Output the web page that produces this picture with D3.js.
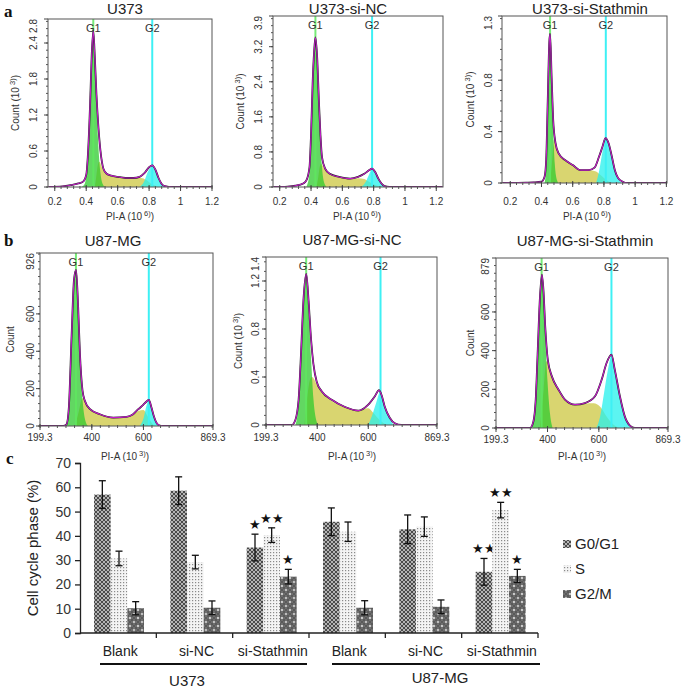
<!DOCTYPE html>
<html>
<head>
<meta charset="utf-8">
<script src="https://cdn.jsdelivr.net/npm/d3@7"></script>
<style>
body { margin: 0; background: #fff; }
svg { display: block; }
text { font-family: "Liberation Sans", Arial, sans-serif; }
</style>
</head>
<body>
<script>
// ---- histogram data ----
// a-row: x in 10^6, count in 10^3 ; b-row: x in 10^3
var histTitles = ["U373", "U373-si-NC", "U373-si-Stathmin", "U87-MG", "U87-MG-si-NC", "U87-MG-si-Stathmin"];
var histYMax = [2.8, 3.9, 1.3, 926, 1.4, 879];
var histYTicks = [[0, 0.6, 1.2, 1.8, 2.4, 2.8], [0, 0.8, 1.6, 2.4, 3.2, 3.9], [0, 0.4, 0.8, 1.3],
                  [0, 200, 400, 600, 926], [0, 0.4, 0.8, 1.2, 1.4], [0, 200, 400, 600, 879]];
var histYLabel = ["Count (10|3)", "Count (10|3)", "Count (10|3)", "Count", "Count (10|3)", "Count"];
var xTicksA = [0.2, 0.4, 0.6, 0.8, 1, 1.2];
var xTicksB = [199.3, 400, 600, 869.3];
var g1Pos = [0.445, 0.428, 0.455, 338.5, 356.7, 377];
var g2Pos = [0.82, 0.79, 0.812, 620.7, 648, 649];

var a1Total = [[0.16,0],[0.25,0.01],[0.3,0.03],[0.35,0.06],[0.38,0.09],[0.4,0.2],[0.41,0.5],[0.425,1.4],[0.435,2.2],[0.445,2.6],[0.455,2.15],[0.465,1.55],[0.475,1.1],[0.49,0.62],[0.51,0.3],[0.53,0.22],[0.56,0.19],[0.6,0.17],[0.65,0.15],[0.7,0.15],[0.74,0.17],[0.77,0.23],[0.8,0.33],[0.82,0.36],[0.84,0.29],[0.86,0.15],[0.88,0.05],[0.9,0.015],[0.95,0],[1.2,0]];
var a1G1 = [[0.37,0],[0.39,0.05],[0.41,0.45],[0.425,1.35],[0.435,2.15],[0.445,2.55],[0.455,2.1],[0.465,1.4],[0.475,0.8],[0.49,0.25],[0.505,0.05],[0.52,0]];
var a1S = [[0.455,0],[0.465,0.2],[0.475,0.38],[0.485,0.42],[0.495,0.36],[0.51,0.27],[0.54,0.2],[0.6,0.17],[0.65,0.15],[0.7,0.15],[0.75,0.15],[0.78,0.12],[0.81,0.06],[0.84,0.02],[0.86,0]];
var a1G2 = [[0.74,0],[0.77,0.1],[0.79,0.24],[0.81,0.33],[0.82,0.35],[0.84,0.28],[0.86,0.14],[0.88,0.04],[0.9,0]];

var a2Total = [[0.16,0],[0.25,0.01],[0.3,0.03],[0.35,0.08],[0.37,0.15],[0.39,0.45],[0.4,1.2],[0.41,2.35],[0.42,3.1],[0.428,3.41],[0.44,2.9],[0.45,1.97],[0.46,1.2],[0.47,0.68],[0.49,0.42],[0.52,0.3],[0.58,0.23],[0.65,0.19],[0.7,0.23],[0.74,0.3],[0.77,0.38],[0.79,0.42],[0.81,0.34],[0.83,0.19],[0.85,0.08],[0.87,0.02],[0.9,0],[1.24,0]];
var a2G1 = [[0.37,0],[0.39,0.3],[0.4,1.0],[0.41,2.1],[0.42,3.0],[0.428,3.3],[0.44,2.7],[0.45,1.8],[0.46,1.0],[0.47,0.45],[0.48,0.15],[0.5,0]];
var a2S = [[0.435,0],[0.445,0.2],[0.455,0.45],[0.465,0.53],[0.48,0.45],[0.5,0.35],[0.52,0.3],[0.58,0.23],[0.65,0.19],[0.7,0.2],[0.74,0.18],[0.77,0.12],[0.8,0.06],[0.83,0.02],[0.85,0]];
var a2G2 = [[0.72,0],[0.75,0.12],[0.77,0.28],[0.79,0.4],[0.81,0.33],[0.83,0.18],[0.85,0.07],[0.87,0]];

var a3Total = [[0.15,0],[0.3,0.003],[0.35,0.005],[0.4,0.01],[0.42,0.05],[0.43,0.18],[0.44,0.64],[0.45,1.1],[0.455,1.16],[0.465,0.82],[0.475,0.49],[0.49,0.31],[0.51,0.23],[0.55,0.18],[0.6,0.14],[0.65,0.1],[0.7,0.1],[0.74,0.12],[0.77,0.21],[0.79,0.28],[0.81,0.35],[0.83,0.31],[0.85,0.21],[0.87,0.1],[0.89,0.04],[0.92,0.01],[0.95,0],[1.2,0]];
var a3G1 = [[0.42,0],[0.43,0.12],[0.44,0.55],[0.45,1.02],[0.455,1.1],[0.465,0.78],[0.475,0.4],[0.485,0.15],[0.5,0.02],[0.51,0]];
var a3S = [[0.455,0],[0.47,0.2],[0.48,0.34],[0.49,0.3],[0.51,0.23],[0.55,0.18],[0.6,0.14],[0.65,0.1],[0.7,0.1],[0.75,0.09],[0.78,0.06],[0.82,0.02],[0.85,0]];
var a3G2 = [[0.75,0],[0.77,0.1],[0.79,0.24],[0.81,0.33],[0.82,0.34],[0.84,0.27],[0.86,0.16],[0.88,0.07],[0.9,0.02],[0.92,0]];

var b1Total = [[199.3,0],[289,0],[302,9],[311,99],[322,495],[331,783],[339,836],[347,639],[354,387],[364,189],[373,135],[393,90],[431,63],[483,45],[534,49],[560,63],[580,90],[599,113],[612,131],[621,140],[631,99],[640,54],[650,18],[663,2],[676,0],[869.3,0]];
var b1G1 = [[300,0],[311,90],[322,470],[331,760],[339,820],[347,620],[354,360],[364,140],[373,40],[385,0]];
var b1S = [[335,0],[350,80],[360,140],[367,150],[380,110],[400,80],[431,63],[483,45],[534,48],[560,60],[580,80],[600,85],[615,55],[630,20],[645,0]];
var b1G2 = [[585,0],[600,40],[612,110],[621,135],[631,95],[640,50],[650,15],[662,0]];

var b2Total = [[199.3,0],[300,0],[314,0.04],[327,0.21],[337,0.62],[346,1.04],[357,1.26],[366,1.04],[376,0.71],[385,0.51],[398,0.36],[418,0.28],[457,0.21],[509,0.15],[561,0.12],[600,0.17],[626,0.24],[642,0.29],[652,0.25],[665,0.15],[684,0.06],[704,0.014],[730,0],[869.3,0]];
var b2G1 = [[315,0],[327,0.18],[337,0.58],[346,1.0],[355,1.2],[366,0.95],[376,0.55],[385,0.22],[395,0.05],[405,0]];
var b2S = [[350,0],[362,0.25],[372,0.38],[380,0.4],[398,0.34],[418,0.27],[457,0.2],[509,0.15],[561,0.12],[600,0.14],[620,0.1],[645,0.04],[670,0]];
var b2G2 = [[600,0],[615,0.08],[630,0.18],[648,0.28],[660,0.2],[672,0.12],[685,0.05],[700,0]];

var b3Total = [[199.3,0],[332,0],[345,34],[354,147],[362,405],[370,664],[378,793],[384,716],[391,526],[401,353],[417,267],[443,198],[468,147],[507,121],[546,129],[585,164],[611,250],[630,336],[649,379],[662,302],[682,164],[701,60],[721,12],[740,0],[869.3,0]];
var b3G1 = [[340,0],[350,100],[360,380],[370,640],[377,780],[384,690],[391,480],[400,240],[410,70],[420,0]];
var b3S = [[370,0],[385,200],[395,345],[405,330],[417,265],[443,198],[468,147],[507,121],[546,126],[580,128],[605,110],[630,60],[655,20],[680,0]];
var b3G2 = [[590,0],[605,60],[620,180],[635,300],[649,370],[662,300],[682,160],[701,58],[715,15],[725,0]];

var histData = [
  {total: a1Total, g1: a1G1, s: a1S, g2: a1G2},
  {total: a2Total, g1: a2G1, s: a2S, g2: a2G2},
  {total: a3Total, g1: a3G1, s: a3S, g2: a3G2},
  {total: b1Total, g1: b1G1, s: b1S, g2: b1G2},
  {total: b2Total, g1: b2G1, s: b2S, g2: b2G2},
  {total: b3Total, g1: b3G1, s: b3S, g2: b3G2}
];

// ---- bar chart data ----
var groups = ["Blank", "si-NC", "si-Stathmin", "Blank", "si-NC", "si-Stathmin"];
var cellLines = ["U373", "U87-MG"];
var phases = ["G0/G1", "S", "G2/M"];
var g0g1 = [57, 58.6, 35.2, 45.8, 42.7, 25.2];
var g0g1Err = [5.7, 5.7, 5.5, 5.7, 5.9, 5.5];
var sPhase = [30.7, 29.2, 40.3, 41.7, 43.8, 50.6];
var sErr = [3, 2.8, 3, 4, 4, 3.2];
var g2m = [10.2, 10.4, 23.2, 10.4, 10.8, 23.5];
var g2mErr = [2.7, 2.8, 3, 2.9, 2.8, 2.7];
var sig = [["", "", ""], ["", "", ""], ["\u2605", "\u2605\u2605", "\u2605"],
           ["", "", ""], ["", "", ""], ["\u2605\u2605", "\u2605\u2605", "\u2605"]];

// ---- layout (pixels) ----
var layout = [
  {left: 48, right: 212, top: 19, bottom: 187, xDom: [0.157, 1.2], tx: 125, ty: 14, ylx: 33, ycx: 15, xlx: 130, xly: 220, tly: 205},
  {left: 273, right: 443, top: 16, bottom: 187, xDom: [0.157, 1.243], tx: 348, ty: 14, ylx: 258, ycx: 240, xlx: 357, xly: 220, tly: 205},
  {left: 502, right: 667, top: 16, bottom: 183, xDom: [0.147, 1.204], tx: 590, ty: 14, ylx: 488, ycx: 470, xlx: 587, xly: 220, tly: 205},
  {left: 40, right: 213, top: 253, bottom: 426, xDom: [199.3, 869.3], tx: 113, ty: 246, ylx: 30, ycx: 10, xlx: 125, xly: 460, tly: 441},
  {left: 266, right: 437, top: 257, bottom: 425, xDom: [199.3, 869.3], tx: 352, ty: 245, ylx: 255, ycx: 238, xlx: 352, xly: 460, tly: 441},
  {left: 496, right: 668, top: 258, bottom: 428, xDom: [199.3, 869.3], tx: 585, ty: 246, ylx: 485, ycx: 470, xlx: 582, xly: 460, tly: 443}
];

var svg = d3.select("body").append("svg").attr("width", 685).attr("height", 688);
var defs = svg.append("defs");

// panel letters
[["a", 4, 17], ["b", 4, 246], ["c", 6, 464]].forEach(function (p) {
  svg.append("text").attr("x", p[1]).attr("y", p[2]).text(p[0])
    .style("font-family", "'Liberation Serif', 'Times New Roman', serif")
    .attr("font-weight", "bold").attr("font-size", 17).attr("fill", "#111");
});

function supLabel(sel, str) {
  var parts = str.split("|");
  sel.append("tspan").text(parts[0]);
  if (parts.length > 1) {
    sel.append("tspan").attr("baseline-shift", "super").attr("font-size", "75%").text(" " + parts[1]);
    sel.append("tspan").text(")");
  }
}

function drawHist(i) {
  var L = layout[i], d = histData[i];
  var g = svg.append("g");
  var x = d3.scaleLinear().domain(L.xDom).range([L.left, L.right]);
  var y = d3.scaleLinear().domain([0, histYMax[i]]).range([L.bottom, L.top]);

  defs.append("clipPath").attr("id", "clip" + i).append("rect")
    .attr("x", L.left).attr("y", L.top).attr("width", L.right - L.left).attr("height", L.bottom - L.top);
  var c = g.append("g").attr("clip-path", "url(#clip" + i + ")");

  var area = d3.area().x(function (p) { return x(p[0]); }).y0(y(0))
    .y1(function (p) { return y(p[1]); }).curve(d3.curveMonotoneX);
  var line = d3.line().x(function (p) { return x(p[0]); })
    .y(function (p) { return y(p[1]); }).curve(d3.curveMonotoneX);

  c.append("path").attr("d", area(d.s)).attr("fill", "#cfcb4c").attr("fill-opacity", 0.8);
  c.append("path").attr("d", area(d.g1)).attr("fill", "#2ec92e").attr("fill-opacity", 0.75);
  c.append("path").attr("d", area(d.g2)).attr("fill", "#25f0ec").attr("fill-opacity", 0.75);

  c.append("line").attr("x1", x(g1Pos[i])).attr("x2", x(g1Pos[i])).attr("y1", L.top).attr("y2", L.bottom)
    .attr("stroke", "#5fe85f").attr("stroke-width", 2).attr("stroke-opacity", 0.85);
  c.append("line").attr("x1", x(g2Pos[i])).attr("x2", x(g2Pos[i])).attr("y1", L.top).attr("y2", L.bottom)
    .attr("stroke", "#3ef0f4").attr("stroke-width", 2);

  c.append("path").attr("d", line(d.total)).attr("fill", "none").attr("stroke", "#222").attr("stroke-width", 1.8);
  c.append("path").attr("d", line(d.total)).attr("fill", "none").attr("stroke", "#c21ec8").attr("stroke-width", 1.1);

  g.append("text").attr("x", x(g1Pos[i])).attr("y", L.top + 13).attr("text-anchor", "middle")
    .attr("font-size", 11).attr("fill", "#333").text("G1");
  g.append("text").attr("x", x(g2Pos[i])).attr("y", L.top + 13).attr("text-anchor", "middle")
    .attr("font-size", 11).attr("fill", "#333").text("G2");

  g.append("rect").attr("x", L.left).attr("y", L.top).attr("width", L.right - L.left)
    .attr("height", L.bottom - L.top).attr("fill", "none").attr("stroke", "#555").attr("stroke-width", 1);

  // y ticks
  var yt = histYTicks[i];
  var ystep = yt[1] / 5;
  d3.range(0, histYMax[i], ystep).forEach(function (v) {
    g.append("line").attr("x1", L.left - 2).attr("x2", L.left).attr("y1", y(v)).attr("y2", y(v)).attr("stroke", "#555");
  });
  yt.forEach(function (v) {
    g.append("line").attr("x1", L.left - 4).attr("x2", L.left).attr("y1", y(v)).attr("y2", y(v)).attr("stroke", "#444");
    g.append("text").attr("transform", "translate(" + L.ylx + "," + y(v) + ") rotate(-90)")
      .attr("text-anchor", v === histYMax[i] ? "end" : "middle").attr("dy", "0.35em")
      .attr("font-size", 10).attr("fill", "#333").text(v);
  });
  var yl = g.append("text").attr("transform", "translate(" + L.ycx + "," + ((L.top + L.bottom) / 2) + ") rotate(-90)")
    .attr("text-anchor", "middle").attr("dy", "0.35em").attr("font-size", 10).attr("fill", "#333");
  supLabel(yl, histYLabel[i]);

  // x ticks
  var isA = i < 3;
  var xt = isA ? xTicksA : xTicksB;
  var minor = isA ? d3.range(0.2, 1.21, 0.04) : d3.range(200, 869, 33.3);
  minor.forEach(function (v) {
    if (v < L.xDom[0] || v > L.xDom[1]) return;
    g.append("line").attr("x1", x(v)).attr("x2", x(v)).attr("y1", L.bottom - 1).attr("y2", L.bottom + 2).attr("stroke", "#555");
  });
  xt.forEach(function (v) {
    g.append("line").attr("x1", x(v)).attr("x2", x(v)).attr("y1", L.bottom - 2).attr("y2", L.bottom + 4).attr("stroke", "#444");
    g.append("text").attr("x", x(v)).attr("y", L.tly).attr("text-anchor", "middle")
      .attr("font-size", 10).attr("fill", "#333").text(v);
  });
  var xl = g.append("text").attr("x", L.xlx).attr("y", L.xly).attr("text-anchor", "middle")
    .attr("font-size", 10).attr("fill", "#333");
  supLabel(xl, isA ? "PI-A (10|6)" : "PI-A (10|3)");

  g.append("text").attr("x", L.tx).attr("y", L.ty).attr("text-anchor", "middle")
    .attr("font-size", 15).attr("fill", "#222").text(histTitles[i]);
}

for (var k = 0; k < 6; k++) drawHist(k);

// ---- bar chart patterns ----
var p1 = defs.append("pattern").attr("id", "patG1").attr("patternUnits", "userSpaceOnUse").attr("width", 4).attr("height", 4);
p1.append("rect").attr("width", 4).attr("height", 4).attr("fill", "#b4b4b4");
p1.append("path").attr("d", "M0,0L4,4M4,0L0,4").attr("stroke", "#4a4a4a").attr("stroke-width", 1);
var p2 = defs.append("pattern").attr("id", "patS").attr("patternUnits", "userSpaceOnUse").attr("width", 3).attr("height", 3);
p2.append("rect").attr("width", 3).attr("height", 3).attr("fill", "#f4f4f4");
p2.append("rect").attr("width", 1.2).attr("height", 1.2).attr("fill", "#8a8a8a");
var p3 = defs.append("pattern").attr("id", "patG2").attr("patternUnits", "userSpaceOnUse").attr("width", 8).attr("height", 8);
p3.append("rect").attr("width", 8).attr("height", 8).attr("fill", "#6e6e6e");
p3.append("path").attr("d", "M0,0L8,8M8,0L0,8M4,0L8,4M0,4L4,8M4,0L0,4M8,4L4,8").attr("stroke", "#555").attr("stroke-width", 0.8);
p3.append("circle").attr("cx", 2).attr("cy", 2).attr("r", 0.9).attr("fill", "#fff");
p3.append("circle").attr("cx", 6).attr("cy", 6).attr("r", 0.9).attr("fill", "#eee");
var patIds = ["url(#patG1)", "url(#patS)", "url(#patG2)"];

// ---- bar chart ----
var bx = d3.scaleBand().domain(d3.range(groups.length)).range([80, 538]);
var bx1 = d3.scaleBand().domain(phases).range([14, 64]);
var by = d3.scaleLinear().domain([0, 70]).range([633, 463]);
var vals = [g0g1, sPhase, g2m];
var errs = [g0g1Err, sErr, g2mErr];

var bar = svg.append("g");
groups.forEach(function (name, gi) {
  phases.forEach(function (ph, pi) {
    var v = vals[pi][gi], e = errs[pi][gi];
    var x0 = bx(gi) + bx1(ph), w = bx1.bandwidth();
    bar.append("rect").attr("x", x0).attr("y", by(v)).attr("width", w).attr("height", by(0) - by(v))
      .attr("fill", patIds[pi]);
    var cx = x0 + w / 2;
    bar.append("line").attr("x1", cx).attr("x2", cx).attr("y1", by(v - e)).attr("y2", by(v + e))
      .attr("stroke", "#111").attr("stroke-width", 1.3);
    [v - e, v + e].forEach(function (t) {
      bar.append("line").attr("x1", cx - 3.5).attr("x2", cx + 3.5).attr("y1", by(t)).attr("y2", by(t))
        .attr("stroke", "#111").attr("stroke-width", 1.3);
    });
    if (sig[gi][pi]) {
      bar.append("text").attr("x", cx).attr("y", by(v + e) - 5).attr("text-anchor", "middle")
        .attr("font-size", 13).attr("fill", "#111").text(sig[gi][pi]);
    }
  });
  bar.append("text").attr("x", bx(gi) + bx.bandwidth() / 2 + 2).attr("y", 656).attr("text-anchor", "middle")
    .attr("font-size", 14).attr("fill", "#222").text(name);
});

var yAxis = svg.append("g").attr("transform", "translate(80,0)")
  .call(d3.axisLeft(by).tickValues(d3.range(0, 71, 10)).tickSize(5).tickPadding(4));
yAxis.select(".domain").attr("stroke", "#222").attr("stroke-width", 1.3);
yAxis.selectAll(".tick line").attr("stroke", "#222").attr("stroke-width", 1.3);
yAxis.selectAll(".tick text").attr("font-size", 14).attr("fill", "#333")
  .style("font-family", "'Liberation Sans', Arial, sans-serif");

svg.append("line").attr("x1", 80).attr("x2", 538).attr("y1", 633).attr("y2", 633)
  .attr("stroke", "#222").attr("stroke-width", 1.3);
d3.range(1, groups.length + 1).forEach(function (gi) {
  var xx = gi < groups.length ? bx(gi) : bx(gi - 1) + bx.bandwidth();
  svg.append("line").attr("x1", xx).attr("x2", xx).attr("y1", 633).attr("y2", 638)
    .attr("stroke", "#222").attr("stroke-width", 1.3);
});

svg.append("text").attr("transform", "translate(33,548) rotate(-90)").attr("text-anchor", "middle")
  .attr("dy", "0.35em").attr("font-size", 15).attr("fill", "#222").text("Cell cycle phase (%)");

// cell line brackets
var lineSpans = [[100, 307, 187, 686], [332, 540, 440, 683]];
cellLines.forEach(function (nm, ci) {
  var s = lineSpans[ci];
  svg.append("line").attr("x1", s[0]).attr("x2", s[1]).attr("y1", 664).attr("y2", 664)
    .attr("stroke", "#111").attr("stroke-width", 2);
  svg.append("text").attr("x", s[2]).attr("y", s[3]).attr("text-anchor", "middle")
    .attr("font-size", 15).attr("fill", "#222").text(nm);
});

// legend
phases.forEach(function (ph, pi) {
  var ly = 544 + pi * 25;
  svg.append("rect").attr("x", 563).attr("y", ly - 4).attr("width", 8).attr("height", 8).attr("fill", patIds[pi]);
  svg.append("text").attr("x", 575).attr("y", ly).attr("dy", "0.35em")
    .attr("font-size", 15).attr("fill", "#222").text(ph);
});
</script>
</body>
</html>
